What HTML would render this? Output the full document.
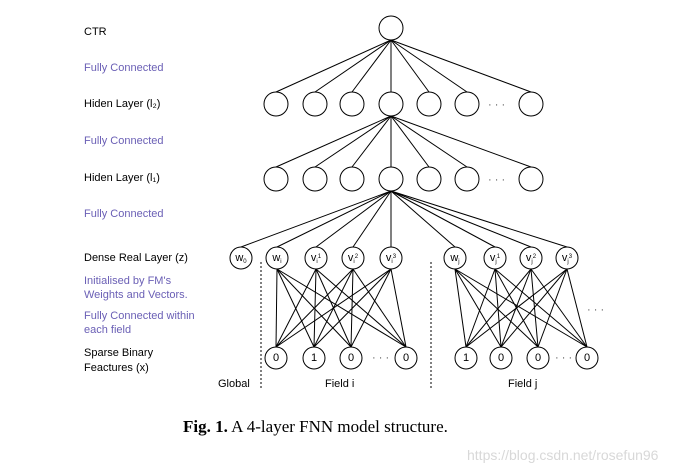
<!DOCTYPE html>
<html><head><meta charset="utf-8"><style>
html,body{margin:0;padding:0;background:#fff;width:691px;height:473px;overflow:hidden}
svg{display:block}
text{font-family:"Liberation Sans",sans-serif;font-size:11px}
.p{fill:#6a5fb5}
</style></head><body>
<svg id="s" width="691" height="473" xmlns="http://www.w3.org/2000/svg">
<g id="lines" stroke="#000" stroke-width="1" fill="none"></g>
<g id="circ" stroke="#000" stroke-width="1" fill="#fff"></g>
<text x="84" y="35">CTR</text>
<text x="84" y="71" class="p">Fully Connected</text>
<text x="84" y="107">Hiden Layer (l₂)</text>
<text x="84" y="144" class="p">Fully Connected</text>
<text x="84" y="181">Hiden Layer (l₁)</text>
<text x="84" y="217" class="p">Fully Connected</text>
<text x="84" y="261">Dense Real Layer (z)</text>
<text x="84" y="284" class="p">Initialised by FM's</text>
<text x="84" y="298" class="p">Weights and Vectors.</text>
<text x="84" y="319" class="p">Fully Connected within</text>
<text x="84" y="333" class="p">each field</text>
<text x="84" y="356">Sparse Binary</text>
<text x="84" y="371">Feactures (x)</text>
<text x="218" y="387">Global</text>
<text x="325" y="387">Field i</text>
<text x="508" y="387">Field j</text>
<line x1="261" y1="262" x2="261" y2="390" stroke="#000" stroke-dasharray="2,2"/>
<line x1="431" y1="262" x2="431" y2="390" stroke="#000" stroke-dasharray="2,2"/>
<text x="488" y="108" font-size="9" fill="#555">· · ·</text>
<text x="488" y="183" font-size="9" fill="#555">· · ·</text>
<text x="587" y="313" font-size="9" fill="#555">· · ·</text>
<text x="372" y="361" font-size="9" fill="#555">· · ·</text>
<text x="555" y="361" font-size="9" fill="#555">· · ·</text>
<g id="lab" font-size="9" text-anchor="middle"></g>
<text x="183" y="432" style="font-family:'Liberation Serif',serif;font-size:17px"><tspan font-weight="bold">Fig. 1.</tspan> A 4-layer FNN model structure.</text>
<text x="467" y="460" style="font-size:14px" fill="#d8d8d8">https://blog.csdn.net/rosefun96</text>
</svg>
<script>
var NS="http://www.w3.org/2000/svg",L=document.getElementById('lines'),C=document.getElementById('circ'),T=document.getElementById('lab');
function ln(a,b,c,d){var e=document.createElementNS(NS,'line');e.setAttribute('x1',a);e.setAttribute('y1',b);e.setAttribute('x2',c);e.setAttribute('y2',d);L.appendChild(e);}
function ci(x,y,r){var e=document.createElementNS(NS,'circle');e.setAttribute('cx',x);e.setAttribute('cy',y);e.setAttribute('r',r);C.appendChild(e);}
function tx(x,y,s){var e=document.createElementNS(NS,'text');e.setAttribute('x',x);e.setAttribute('y',y);e.innerHTML=s;T.appendChild(e);}
var hx=[276,315,352,391,429,467,531];
ci(391,28,12);
hx.forEach(function(x){ln(391,40,x,92);ci(x,104,12);ln(391,116,x,167);ci(x,179,12);});
var dx=[241,277,316,353,391,455,495,531,567];
dx.forEach(function(x){ln(391,191,x,247);ci(x,258,11);});
var si=[276,314,351,406],sj=[466,501,538,587];
[277,316,353,391].forEach(function(x){si.forEach(function(s){ln(x,269,s,347);});});
[455,495,531,567].forEach(function(x){sj.forEach(function(s){ln(x,269,s,347);});});
si.concat(sj).forEach(function(x){ci(x,358,11);});
var dl=['w<tspan font-size="6" dy="2">0</tspan>','w<tspan font-size="6" dy="2">i</tspan>','v<tspan font-size="6" dy="2">i</tspan><tspan font-size="6" dy="-5">1</tspan>','v<tspan font-size="6" dy="2">i</tspan><tspan font-size="6" dy="-5">2</tspan>','v<tspan font-size="6" dy="2">i</tspan><tspan font-size="6" dy="-5">3</tspan>','w<tspan font-size="6" dy="2">j</tspan>','v<tspan font-size="6" dy="2">j</tspan><tspan font-size="6" dy="-5">1</tspan>','v<tspan font-size="6" dy="2">j</tspan><tspan font-size="6" dy="-5">2</tspan>','v<tspan font-size="6" dy="2">j</tspan><tspan font-size="6" dy="-5">3</tspan>'];
dx.forEach(function(x,i){tx(x,261,dl[i]);});
var sv=['0','1','0','0','1','0','0','0'];
si.concat(sj).forEach(function(x,i){tx(x,361,sv[i]);});
</script>
</body></html>
